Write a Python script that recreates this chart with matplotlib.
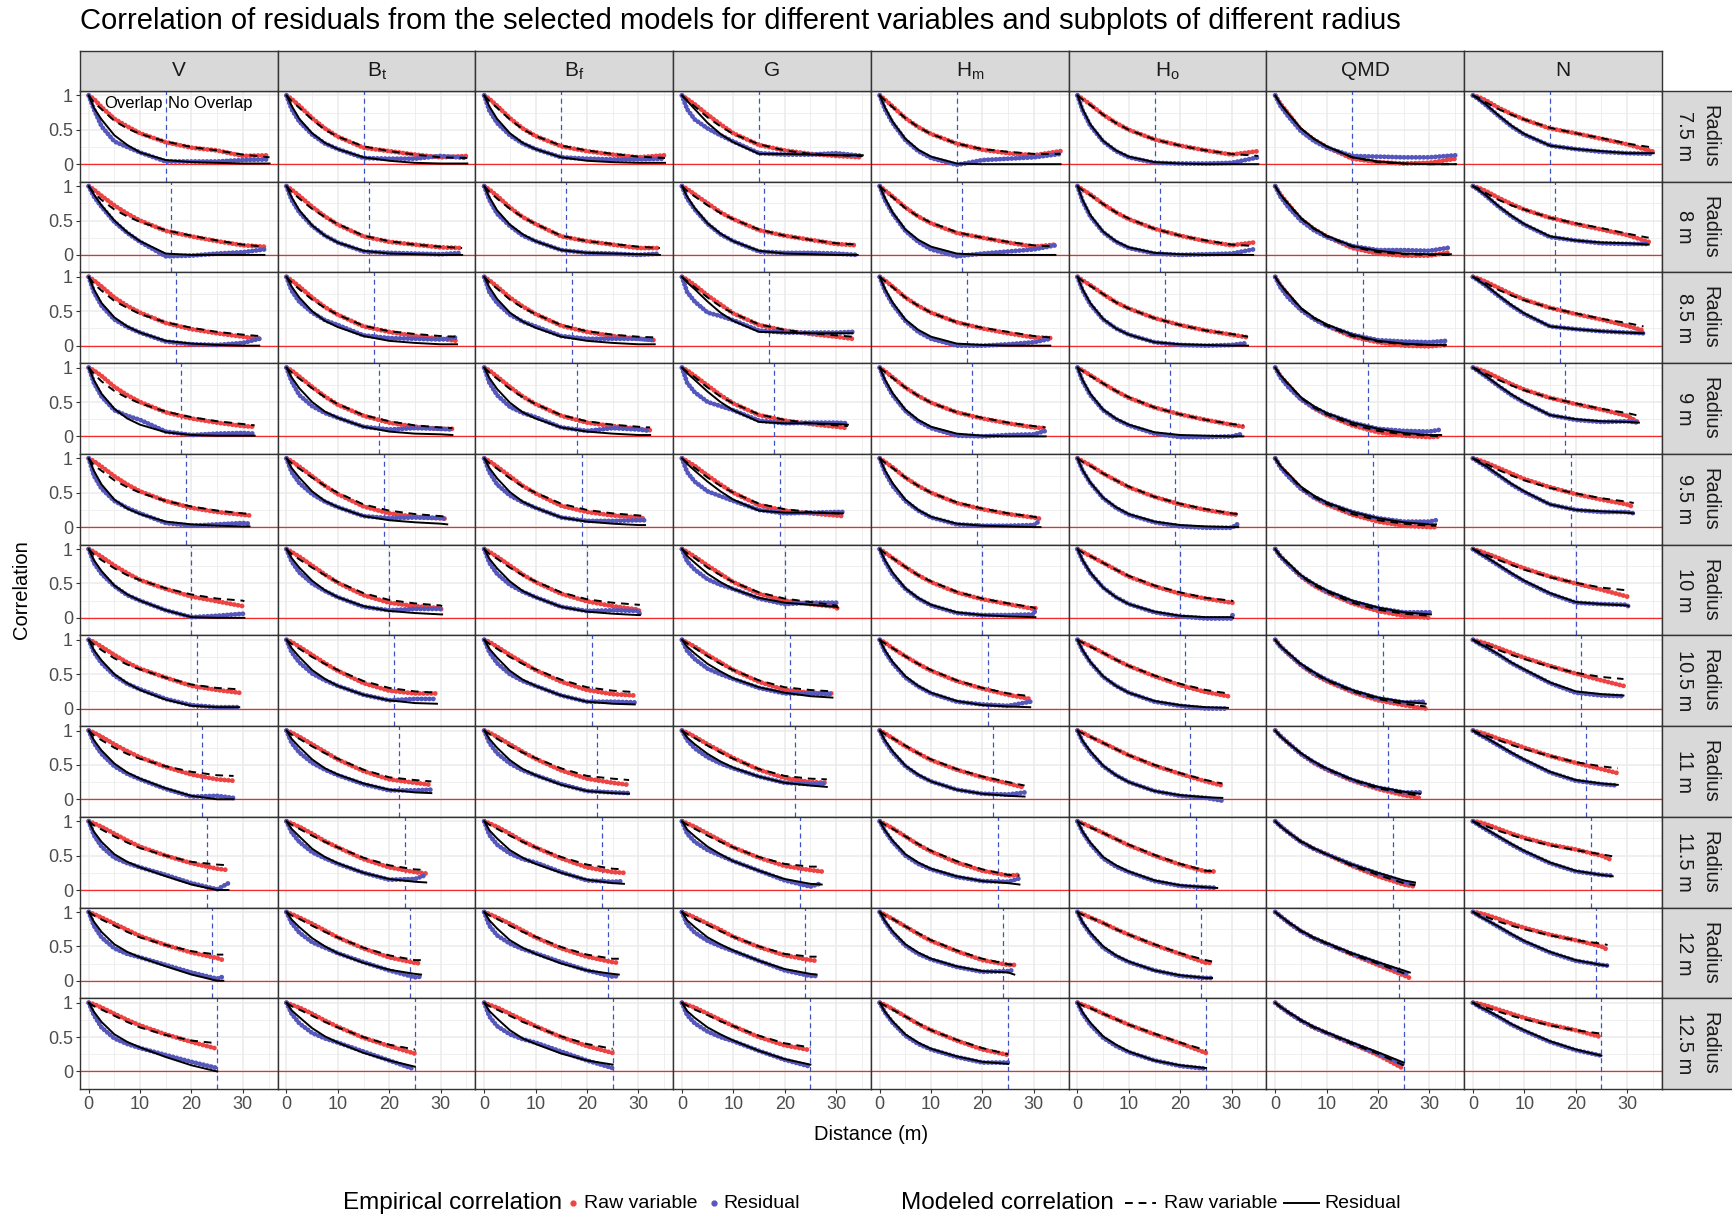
import matplotlib
matplotlib.use("Agg")
import matplotlib.pyplot as plt
from matplotlib.lines import Line2D
from matplotlib.ticker import FixedLocator

plt.rcParams['font.family'] = ['Liberation Sans', 'DejaVu Sans']
plt.rcParams['mathtext.fontset'] = 'custom'
plt.rcParams['mathtext.rm'] = 'Liberation Sans'
plt.rcParams['mathtext.it'] = 'Liberation Sans:italic'

# facets
VAR_LABELS = ['V', r'B$_\mathrm{t}$', r'B$_\mathrm{f}$', 'G', r'H$_\mathrm{m}$', r'H$_\mathrm{o}$', 'QMD', 'N']
RADII = [7.5, 8, 8.5, 9, 9.5, 10, 10.5, 11, 11.5, 12, 12.5]
# last distance class per radius, and distances where the curves were read
XMAX = [35.2, 34.2, 33.2, 32.3, 31.3, 30.3, 29.3, 28.2, 27.2, 26.2, 25.0]
DIST = [0, 1, 2.5, 5, 7.5, 10, 15, 20, 25, 30]

# ---- V ----
V_EMP_RAW = [
    [1, 0.95, 0.83, 0.66, 0.55, 0.45, 0.32, 0.24, 0.2, 0.12, 0.13],
    [1, 0.95, 0.86, 0.72, 0.6, 0.5, 0.35, 0.27, 0.2, 0.14, 0.12],
    [1, 0.95, 0.86, 0.7, 0.58, 0.48, 0.33, 0.24, 0.18, 0.13, 0.1],
    [1, 0.96, 0.88, 0.72, 0.6, 0.5, 0.35, 0.26, 0.2, 0.15, 0.14],
    [1, 0.96, 0.88, 0.74, 0.62, 0.52, 0.38, 0.28, 0.22, 0.18, 0.17],
    [1, 0.96, 0.89, 0.76, 0.65, 0.55, 0.42, 0.31, 0.24, 0.17, 0.15],
    [1, 0.97, 0.9, 0.78, 0.67, 0.58, 0.45, 0.33, 0.27, 0.23],
    [1, 0.97, 0.91, 0.8, 0.7, 0.61, 0.47, 0.36, 0.29, 0.27],
    [1, 0.97, 0.92, 0.82, 0.72, 0.63, 0.5, 0.39, 0.31, 0.29],
    [1, 0.97, 0.92, 0.83, 0.74, 0.65, 0.52, 0.41, 0.33, 0.3],
    [1, 0.98, 0.93, 0.84, 0.75, 0.67, 0.54, 0.43, 0.33],
]
V_MOD_RAW = [
    [1, 0.9, 0.8, 0.63, 0.52, 0.44, 0.33, 0.25, 0.2, 0.14, 0.1],
    [1, 0.9, 0.8, 0.66, 0.56, 0.48, 0.36, 0.28, 0.21, 0.15, 0.12],
    [1, 0.9, 0.8, 0.65, 0.55, 0.46, 0.34, 0.26, 0.2, 0.16, 0.14],
    [1, 0.91, 0.8, 0.66, 0.56, 0.48, 0.36, 0.28, 0.22, 0.18, 0.16],
    [1, 0.9, 0.82, 0.68, 0.58, 0.5, 0.38, 0.3, 0.24, 0.2, 0.19],
    [1, 0.92, 0.84, 0.72, 0.62, 0.55, 0.43, 0.34, 0.28, 0.25, 0.24],
    [1, 0.93, 0.85, 0.73, 0.64, 0.57, 0.45, 0.35, 0.3, 0.28],
    [1, 0.93, 0.86, 0.75, 0.66, 0.59, 0.48, 0.4, 0.35, 0.34],
    [1, 0.94, 0.88, 0.78, 0.69, 0.61, 0.5, 0.41, 0.37, 0.36],
    [1, 0.95, 0.89, 0.8, 0.71, 0.63, 0.52, 0.43, 0.38, 0.38],
    [1, 0.95, 0.9, 0.81, 0.72, 0.64, 0.53, 0.45, 0.41],
]
V_EMP_RES = [
    [1, 0.8, 0.55, 0.33, 0.25, 0.17, 0.04, 0.04, 0.04, 0.06, 0.07],
    [1, 0.85, 0.7, 0.48, 0.32, 0.19, -0.02, -0.01, 0.02, 0.04, 0.08],
    [1, 0.78, 0.58, 0.38, 0.27, 0.19, 0.06, 0.02, 0.01, 0.04, 0.1],
    [1, 0.78, 0.58, 0.38, 0.3, 0.24, 0.07, 0.02, 0.04, 0.05, 0.04],
    [1, 0.75, 0.56, 0.38, 0.28, 0.2, 0.06, 0.02, 0.04, 0.06, 0.05],
    [1, 0.8, 0.64, 0.46, 0.33, 0.25, 0.11, 0.01, 0.03, 0.06, 0.02],
    [1, 0.82, 0.66, 0.48, 0.36, 0.28, 0.14, 0.05, 0.02, 0.02],
    [1, 0.82, 0.66, 0.48, 0.37, 0.29, 0.15, 0.04, 0.05, 0.02],
    [1, 0.8, 0.63, 0.47, 0.39, 0.33, 0.22, 0.1, 0.01, 0.1],
    [1, 0.8, 0.63, 0.47, 0.39, 0.34, 0.23, 0.12, 0.03, 0.06],
    [1, 0.82, 0.64, 0.48, 0.4, 0.34, 0.24, 0.14, 0.05],
]
V_MOD_RES = [
    [1, 0.82, 0.65, 0.42, 0.28, 0.17, 0.06, 0.03, 0.02, 0.01, 0.01],
    [1, 0.88, 0.72, 0.5, 0.33, 0.2, 0.02, 0.0, 0.0, 0.0, 0.0],
    [1, 0.82, 0.62, 0.41, 0.28, 0.19, 0.07, 0.03, 0.01, 0.0, 0.0],
    [1, 0.82, 0.62, 0.4, 0.26, 0.17, 0.06, 0.02, 0.01, 0.01, 0.01],
    [1, 0.82, 0.62, 0.4, 0.27, 0.19, 0.08, 0.04, 0.02, 0.01, 0.01],
    [1, 0.84, 0.68, 0.47, 0.34, 0.25, 0.11, 0.01, 0.0, 0.0, 0.0],
    [1, 0.85, 0.7, 0.5, 0.37, 0.27, 0.13, 0.04, 0.02, 0.02],
    [1, 0.86, 0.71, 0.52, 0.39, 0.3, 0.16, 0.05, 0.0, 0.0],
    [1, 0.85, 0.7, 0.52, 0.41, 0.33, 0.2, 0.08, 0.0, 0.0],
    [1, 0.86, 0.71, 0.53, 0.42, 0.34, 0.21, 0.09, 0.0, 0.0],
    [1, 0.87, 0.72, 0.54, 0.43, 0.35, 0.21, 0.09, 0.0],
]

# ---- Bt ----
BT_EMP_RAW = [
    [1, 0.95, 0.85, 0.67, 0.52, 0.4, 0.24, 0.19, 0.14, 0.1, 0.12],
    [1, 0.95, 0.86, 0.7, 0.56, 0.44, 0.27, 0.19, 0.15, 0.11, 0.1],
    [1, 0.95, 0.86, 0.7, 0.56, 0.45, 0.28, 0.2, 0.14, 0.1, 0.07],
    [1, 0.96, 0.87, 0.72, 0.58, 0.46, 0.3, 0.2, 0.14, 0.11, 0.11],
    [1, 0.96, 0.88, 0.74, 0.6, 0.48, 0.3, 0.2, 0.15, 0.13, 0.12],
    [1, 0.96, 0.89, 0.76, 0.63, 0.51, 0.33, 0.22, 0.17, 0.14, 0.1],
    [1, 0.97, 0.9, 0.78, 0.66, 0.55, 0.37, 0.26, 0.22, 0.22],
    [1, 0.97, 0.91, 0.8, 0.69, 0.58, 0.41, 0.29, 0.24, 0.21],
    [1, 0.97, 0.92, 0.82, 0.71, 0.62, 0.45, 0.33, 0.26, 0.24],
    [1, 0.97, 0.92, 0.83, 0.73, 0.63, 0.47, 0.34, 0.26, 0.25],
    [1, 0.97, 0.93, 0.84, 0.74, 0.65, 0.49, 0.37, 0.26],
]
BT_MOD_RAW = [
    [1, 0.92, 0.82, 0.65, 0.5, 0.4, 0.26, 0.19, 0.14, 0.1, 0.09],
    [1, 0.92, 0.82, 0.67, 0.55, 0.45, 0.28, 0.2, 0.15, 0.12, 0.1],
    [1, 0.92, 0.82, 0.67, 0.55, 0.45, 0.29, 0.21, 0.17, 0.14, 0.13],
    [1, 0.93, 0.84, 0.7, 0.57, 0.47, 0.31, 0.22, 0.16, 0.13, 0.12],
    [1, 0.93, 0.85, 0.72, 0.6, 0.5, 0.33, 0.24, 0.19, 0.16, 0.15],
    [1, 0.93, 0.85, 0.73, 0.62, 0.52, 0.36, 0.26, 0.21, 0.18, 0.17],
    [1, 0.94, 0.87, 0.75, 0.65, 0.56, 0.4, 0.3, 0.25, 0.23],
    [1, 0.94, 0.88, 0.77, 0.67, 0.59, 0.43, 0.32, 0.28, 0.26],
    [1, 0.95, 0.89, 0.79, 0.7, 0.62, 0.47, 0.36, 0.3, 0.29],
    [1, 0.95, 0.9, 0.8, 0.71, 0.63, 0.48, 0.37, 0.3, 0.3],
    [1, 0.95, 0.9, 0.81, 0.72, 0.64, 0.5, 0.39, 0.32],
]
BT_EMP_RES = [
    [1, 0.8, 0.62, 0.43, 0.3, 0.22, 0.09, 0.08, 0.08, 0.12, 0.09],
    [1, 0.8, 0.62, 0.42, 0.28, 0.18, 0.05, 0.03, 0.02, 0.01, 0.03],
    [1, 0.8, 0.64, 0.48, 0.37, 0.3, 0.15, 0.11, 0.1, 0.09, 0.12],
    [1, 0.8, 0.6, 0.44, 0.34, 0.27, 0.14, 0.1, 0.12, 0.11, 0.1],
    [1, 0.8, 0.64, 0.48, 0.37, 0.29, 0.16, 0.13, 0.14, 0.13, 0.12],
    [1, 0.82, 0.66, 0.5, 0.39, 0.3, 0.16, 0.11, 0.13, 0.13, 0.09],
    [1, 0.82, 0.67, 0.51, 0.41, 0.33, 0.2, 0.12, 0.14, 0.14],
    [1, 0.82, 0.68, 0.53, 0.43, 0.35, 0.22, 0.13, 0.13, 0.14],
    [1, 0.84, 0.7, 0.55, 0.46, 0.38, 0.25, 0.15, 0.16, 0.22],
    [1, 0.84, 0.7, 0.56, 0.48, 0.4, 0.27, 0.15, 0.05, 0.06],
    [1, 0.84, 0.7, 0.56, 0.48, 0.42, 0.29, 0.16, 0.03],
]
BT_MOD_RES = [
    [1, 0.85, 0.66, 0.45, 0.31, 0.22, 0.1, 0.05, 0.02, 0.01, 0.01],
    [1, 0.84, 0.65, 0.43, 0.28, 0.18, 0.06, 0.02, 0.01, 0.0, 0.0],
    [1, 0.86, 0.7, 0.5, 0.36, 0.27, 0.14, 0.07, 0.04, 0.02, 0.02],
    [1, 0.86, 0.7, 0.5, 0.36, 0.27, 0.14, 0.07, 0.04, 0.03, 0.02],
    [1, 0.86, 0.72, 0.52, 0.38, 0.29, 0.16, 0.1, 0.07, 0.05, 0.04],
    [1, 0.87, 0.73, 0.54, 0.4, 0.3, 0.17, 0.1, 0.07, 0.05, 0.05],
    [1, 0.88, 0.75, 0.56, 0.43, 0.33, 0.2, 0.12, 0.08, 0.07],
    [1, 0.88, 0.76, 0.58, 0.45, 0.36, 0.23, 0.14, 0.1, 0.09],
    [1, 0.89, 0.78, 0.6, 0.48, 0.39, 0.25, 0.16, 0.12, 0.11],
    [1, 0.89, 0.78, 0.62, 0.5, 0.4, 0.26, 0.16, 0.1, 0.09],
    [1, 0.89, 0.79, 0.63, 0.51, 0.42, 0.27, 0.16, 0.07],
]

# ---- Bf ----
BF_EMP_RAW = [
    [1, 0.95, 0.85, 0.67, 0.52, 0.41, 0.26, 0.19, 0.14, 0.1, 0.13],
    [1, 0.95, 0.86, 0.69, 0.55, 0.45, 0.27, 0.2, 0.15, 0.1, 0.1],
    [1, 0.95, 0.86, 0.7, 0.57, 0.46, 0.29, 0.2, 0.14, 0.1, 0.08],
    [1, 0.96, 0.87, 0.72, 0.58, 0.47, 0.3, 0.2, 0.15, 0.11, 0.09],
    [1, 0.96, 0.88, 0.74, 0.6, 0.49, 0.31, 0.22, 0.17, 0.14, 0.12],
    [1, 0.96, 0.89, 0.76, 0.63, 0.52, 0.35, 0.24, 0.17, 0.12, 0.08],
    [1, 0.97, 0.9, 0.78, 0.67, 0.56, 0.39, 0.27, 0.21, 0.19],
    [1, 0.97, 0.91, 0.8, 0.69, 0.59, 0.42, 0.3, 0.24, 0.21],
    [1, 0.97, 0.92, 0.82, 0.71, 0.62, 0.46, 0.33, 0.26, 0.25],
    [1, 0.97, 0.92, 0.83, 0.73, 0.63, 0.47, 0.35, 0.27, 0.26],
    [1, 0.97, 0.93, 0.84, 0.75, 0.66, 0.5, 0.37, 0.27],
]
BF_MOD_RAW = [
    [1, 0.92, 0.82, 0.65, 0.51, 0.41, 0.27, 0.2, 0.15, 0.11, 0.09],
    [1, 0.92, 0.82, 0.67, 0.55, 0.45, 0.28, 0.2, 0.16, 0.12, 0.1],
    [1, 0.92, 0.83, 0.67, 0.55, 0.46, 0.3, 0.21, 0.16, 0.13, 0.12],
    [1, 0.93, 0.84, 0.69, 0.57, 0.47, 0.31, 0.22, 0.17, 0.14, 0.13],
    [1, 0.93, 0.85, 0.71, 0.59, 0.5, 0.34, 0.25, 0.2, 0.17, 0.16],
    [1, 0.93, 0.86, 0.73, 0.62, 0.53, 0.37, 0.27, 0.22, 0.19, 0.19],
    [1, 0.94, 0.87, 0.75, 0.65, 0.57, 0.42, 0.31, 0.26, 0.24],
    [1, 0.95, 0.88, 0.77, 0.68, 0.6, 0.45, 0.34, 0.3, 0.28],
    [1, 0.95, 0.89, 0.79, 0.7, 0.62, 0.48, 0.37, 0.31, 0.3],
    [1, 0.95, 0.9, 0.8, 0.71, 0.64, 0.49, 0.38, 0.32, 0.32],
    [1, 0.95, 0.9, 0.81, 0.72, 0.65, 0.51, 0.4, 0.33],
]
BF_EMP_RES = [
    [1, 0.78, 0.6, 0.42, 0.3, 0.22, 0.1, 0.08, 0.07, 0.07, 0.08],
    [1, 0.8, 0.6, 0.42, 0.28, 0.2, 0.07, 0.03, 0.02, 0.0, 0.02],
    [1, 0.78, 0.62, 0.45, 0.35, 0.28, 0.14, 0.1, 0.1, 0.1, 0.08],
    [1, 0.78, 0.6, 0.43, 0.34, 0.28, 0.13, 0.08, 0.12, 0.1, 0.08],
    [1, 0.8, 0.62, 0.46, 0.36, 0.28, 0.14, 0.09, 0.09, 0.1, 0.1],
    [1, 0.8, 0.64, 0.48, 0.38, 0.3, 0.16, 0.1, 0.11, 0.1, 0.05],
    [1, 0.82, 0.66, 0.5, 0.4, 0.33, 0.19, 0.1, 0.1, 0.09],
    [1, 0.82, 0.67, 0.52, 0.42, 0.35, 0.22, 0.12, 0.1, 0.09],
    [1, 0.8, 0.66, 0.53, 0.45, 0.4, 0.26, 0.14, 0.12, 0.13],
    [1, 0.8, 0.66, 0.54, 0.46, 0.4, 0.27, 0.15, 0.06, 0.07],
    [1, 0.8, 0.66, 0.54, 0.47, 0.42, 0.29, 0.16, 0.05],
]
BF_MOD_RES = [
    [1, 0.84, 0.66, 0.45, 0.31, 0.22, 0.1, 0.05, 0.03, 0.02, 0.02],
    [1, 0.84, 0.65, 0.44, 0.3, 0.2, 0.07, 0.03, 0.02, 0.01, 0.0],
    [1, 0.85, 0.68, 0.48, 0.35, 0.26, 0.13, 0.07, 0.04, 0.02, 0.02],
    [1, 0.85, 0.69, 0.49, 0.35, 0.26, 0.13, 0.07, 0.04, 0.02, 0.02],
    [1, 0.86, 0.71, 0.51, 0.37, 0.28, 0.14, 0.08, 0.05, 0.03, 0.03],
    [1, 0.86, 0.72, 0.53, 0.39, 0.3, 0.16, 0.09, 0.06, 0.04, 0.04],
    [1, 0.87, 0.74, 0.55, 0.42, 0.33, 0.19, 0.1, 0.07, 0.06],
    [1, 0.88, 0.75, 0.57, 0.44, 0.35, 0.21, 0.12, 0.09, 0.08],
    [1, 0.87, 0.75, 0.58, 0.47, 0.38, 0.25, 0.15, 0.1, 0.09],
    [1, 0.88, 0.76, 0.59, 0.48, 0.39, 0.25, 0.15, 0.1, 0.09],
    [1, 0.88, 0.77, 0.6, 0.48, 0.4, 0.26, 0.16, 0.1],
]

# ---- G ----
G_EMP_RAW = [
    [1, 0.95, 0.87, 0.72, 0.58, 0.45, 0.28, 0.2, 0.15, 0.12, 0.1],
    [1, 0.96, 0.88, 0.75, 0.62, 0.52, 0.36, 0.28, 0.22, 0.16, 0.14],
    [1, 0.96, 0.88, 0.73, 0.6, 0.47, 0.3, 0.22, 0.17, 0.13, 0.1],
    [1, 0.96, 0.88, 0.74, 0.6, 0.48, 0.31, 0.23, 0.18, 0.14, 0.12],
    [1, 0.96, 0.89, 0.75, 0.62, 0.5, 0.32, 0.24, 0.2, 0.17, 0.16],
    [1, 0.96, 0.89, 0.76, 0.64, 0.52, 0.35, 0.25, 0.2, 0.16, 0.13],
    [1, 0.96, 0.9, 0.78, 0.67, 0.56, 0.39, 0.27, 0.23, 0.22],
    [1, 0.97, 0.91, 0.8, 0.7, 0.6, 0.43, 0.31, 0.25, 0.24],
    [1, 0.97, 0.92, 0.82, 0.72, 0.62, 0.47, 0.35, 0.29, 0.27],
    [1, 0.97, 0.92, 0.83, 0.74, 0.64, 0.49, 0.37, 0.3, 0.29],
    [1, 0.97, 0.93, 0.84, 0.75, 0.66, 0.5, 0.38, 0.31],
]
G_MOD_RAW = [
    [1, 0.93, 0.84, 0.68, 0.55, 0.44, 0.29, 0.2, 0.15, 0.13, 0.12],
    [1, 0.93, 0.85, 0.72, 0.61, 0.52, 0.37, 0.28, 0.22, 0.17, 0.15],
    [1, 0.94, 0.85, 0.7, 0.57, 0.47, 0.31, 0.23, 0.18, 0.15, 0.13],
    [1, 0.94, 0.86, 0.71, 0.58, 0.48, 0.32, 0.24, 0.19, 0.16, 0.15],
    [1, 0.94, 0.86, 0.72, 0.6, 0.5, 0.34, 0.26, 0.22, 0.2, 0.2],
    [1, 0.94, 0.87, 0.73, 0.62, 0.52, 0.37, 0.28, 0.23, 0.18, 0.17],
    [1, 0.95, 0.88, 0.76, 0.65, 0.56, 0.41, 0.31, 0.27, 0.25],
    [1, 0.95, 0.89, 0.78, 0.68, 0.59, 0.44, 0.34, 0.3, 0.29],
    [1, 0.95, 0.89, 0.79, 0.7, 0.62, 0.48, 0.38, 0.34, 0.34],
    [1, 0.95, 0.9, 0.81, 0.72, 0.64, 0.5, 0.39, 0.35, 0.35],
    [1, 0.96, 0.9, 0.82, 0.73, 0.66, 0.52, 0.41, 0.35],
]
G_EMP_RES = [
    [1, 0.8, 0.65, 0.52, 0.42, 0.33, 0.16, 0.14, 0.14, 0.16, 0.12],
    [1, 0.82, 0.66, 0.45, 0.3, 0.2, 0.05, 0.03, 0.03, 0.02, 0.0],
    [1, 0.78, 0.64, 0.48, 0.43, 0.37, 0.22, 0.19, 0.19, 0.19, 0.2],
    [1, 0.78, 0.64, 0.5, 0.44, 0.38, 0.23, 0.19, 0.2, 0.2, 0.19],
    [1, 0.8, 0.66, 0.52, 0.45, 0.38, 0.25, 0.2, 0.21, 0.22, 0.22],
    [1, 0.82, 0.7, 0.56, 0.48, 0.42, 0.28, 0.2, 0.22, 0.22, 0.2],
    [1, 0.84, 0.72, 0.58, 0.5, 0.43, 0.3, 0.22, 0.22, 0.21],
    [1, 0.86, 0.74, 0.61, 0.52, 0.45, 0.33, 0.24, 0.22, 0.23],
    [1, 0.82, 0.7, 0.58, 0.5, 0.42, 0.28, 0.14, 0.05, 0.1],
    [1, 0.82, 0.7, 0.58, 0.5, 0.43, 0.29, 0.15, 0.07, 0.07],
    [1, 0.82, 0.7, 0.58, 0.5, 0.44, 0.3, 0.17, 0.07],
]
G_MOD_RES = [
    [1, 0.92, 0.8, 0.6, 0.44, 0.32, 0.15, 0.15, 0.14, 0.13, 0.13],
    [1, 0.85, 0.68, 0.46, 0.31, 0.2, 0.06, 0.02, 0.01, 0.0, 0.0],
    [1, 0.92, 0.82, 0.64, 0.48, 0.36, 0.2, 0.19, 0.18, 0.18, 0.18],
    [1, 0.92, 0.82, 0.65, 0.5, 0.38, 0.21, 0.19, 0.19, 0.18, 0.17],
    [1, 0.92, 0.82, 0.66, 0.52, 0.4, 0.24, 0.21, 0.21, 0.2, 0.2],
    [1, 0.9, 0.8, 0.64, 0.52, 0.42, 0.29, 0.22, 0.19, 0.16, 0.15],
    [1, 0.9, 0.8, 0.65, 0.54, 0.44, 0.31, 0.23, 0.18, 0.16],
    [1, 0.9, 0.8, 0.66, 0.55, 0.46, 0.33, 0.24, 0.2, 0.18],
    [1, 0.88, 0.78, 0.63, 0.52, 0.42, 0.28, 0.16, 0.09, 0.08],
    [1, 0.88, 0.78, 0.63, 0.53, 0.44, 0.29, 0.17, 0.1, 0.09],
    [1, 0.88, 0.78, 0.64, 0.54, 0.45, 0.3, 0.18, 0.1],
]

# ---- Hm ----
HM_EMP_RAW = [
    [1, 0.94, 0.84, 0.67, 0.54, 0.44, 0.3, 0.21, 0.16, 0.13, 0.19],
    [1, 0.94, 0.85, 0.69, 0.56, 0.46, 0.32, 0.25, 0.18, 0.12, 0.15],
    [1, 0.95, 0.86, 0.7, 0.58, 0.48, 0.34, 0.25, 0.18, 0.12, 0.11],
    [1, 0.95, 0.86, 0.71, 0.59, 0.49, 0.35, 0.26, 0.19, 0.13, 0.12],
    [1, 0.95, 0.87, 0.72, 0.6, 0.5, 0.35, 0.26, 0.19, 0.14, 0.12],
    [1, 0.95, 0.87, 0.74, 0.62, 0.52, 0.37, 0.27, 0.2, 0.13, 0.14],
    [1, 0.96, 0.88, 0.76, 0.65, 0.55, 0.4, 0.29, 0.2, 0.14],
    [1, 0.96, 0.89, 0.77, 0.67, 0.57, 0.43, 0.32, 0.23, 0.17],
    [1, 0.96, 0.9, 0.78, 0.66, 0.56, 0.4, 0.28, 0.21, 0.22],
    [1, 0.96, 0.9, 0.79, 0.68, 0.58, 0.43, 0.3, 0.23, 0.23],
    [1, 0.97, 0.91, 0.8, 0.69, 0.6, 0.45, 0.32, 0.24],
]
HM_MOD_RAW = [
    [1, 0.93, 0.83, 0.67, 0.54, 0.44, 0.3, 0.22, 0.18, 0.15, 0.15],
    [1, 0.93, 0.84, 0.68, 0.56, 0.47, 0.33, 0.25, 0.19, 0.14, 0.12],
    [1, 0.94, 0.85, 0.7, 0.58, 0.48, 0.34, 0.26, 0.2, 0.14, 0.12],
    [1, 0.94, 0.85, 0.71, 0.59, 0.49, 0.35, 0.27, 0.2, 0.15, 0.13],
    [1, 0.94, 0.86, 0.72, 0.6, 0.5, 0.36, 0.27, 0.2, 0.15, 0.13],
    [1, 0.94, 0.87, 0.74, 0.62, 0.53, 0.38, 0.28, 0.21, 0.15, 0.13],
    [1, 0.95, 0.88, 0.76, 0.65, 0.56, 0.41, 0.3, 0.22, 0.18],
    [1, 0.95, 0.89, 0.78, 0.67, 0.58, 0.44, 0.33, 0.25, 0.2],
    [1, 0.95, 0.89, 0.78, 0.67, 0.57, 0.42, 0.3, 0.22, 0.21],
    [1, 0.95, 0.9, 0.79, 0.69, 0.59, 0.44, 0.32, 0.24, 0.23],
    [1, 0.96, 0.9, 0.8, 0.7, 0.6, 0.46, 0.34, 0.25],
]
HM_EMP_RES = [
    [1, 0.8, 0.6, 0.35, 0.19, 0.09, -0.01, 0.06, 0.08, 0.1, 0.15],
    [1, 0.8, 0.6, 0.35, 0.19, 0.08, -0.02, 0.02, 0.05, 0.08, 0.14],
    [1, 0.8, 0.6, 0.36, 0.2, 0.1, 0.0, 0.0, 0.02, 0.05, 0.1],
    [1, 0.8, 0.6, 0.37, 0.22, 0.12, 0.01, 0.0, 0.02, 0.03, 0.08],
    [1, 0.8, 0.6, 0.38, 0.24, 0.14, 0.04, 0.02, 0.02, 0.03, 0.1],
    [1, 0.82, 0.63, 0.42, 0.28, 0.18, 0.07, 0.04, 0.04, 0.05, 0.12],
    [1, 0.83, 0.66, 0.45, 0.32, 0.22, 0.1, 0.06, 0.04, 0.1],
    [1, 0.84, 0.68, 0.48, 0.35, 0.26, 0.14, 0.08, 0.07, 0.1],
    [1, 0.86, 0.7, 0.5, 0.38, 0.3, 0.19, 0.13, 0.12, 0.17],
    [1, 0.86, 0.7, 0.51, 0.39, 0.31, 0.2, 0.13, 0.14, 0.16],
    [1, 0.86, 0.71, 0.52, 0.4, 0.32, 0.21, 0.13, 0.13],
]
HM_MOD_RES = [
    [1, 0.83, 0.62, 0.37, 0.21, 0.11, 0.01, 0.0, 0.0, 0.0, 0.0],
    [1, 0.83, 0.62, 0.37, 0.22, 0.12, 0.02, 0.0, 0.0, 0.0, 0.0],
    [1, 0.83, 0.63, 0.38, 0.23, 0.13, 0.03, 0.01, 0.0, 0.0, 0.0],
    [1, 0.83, 0.63, 0.39, 0.24, 0.14, 0.04, 0.01, 0.0, 0.0, 0.0],
    [1, 0.83, 0.64, 0.4, 0.25, 0.15, 0.05, 0.02, 0.01, 0.0, 0.0],
    [1, 0.84, 0.66, 0.43, 0.29, 0.19, 0.08, 0.04, 0.02, 0.01, 0.01],
    [1, 0.85, 0.68, 0.47, 0.33, 0.23, 0.11, 0.05, 0.03, 0.02],
    [1, 0.86, 0.7, 0.49, 0.36, 0.26, 0.14, 0.08, 0.05, 0.04],
    [1, 0.87, 0.72, 0.52, 0.4, 0.31, 0.2, 0.13, 0.1, 0.08],
    [1, 0.87, 0.72, 0.53, 0.41, 0.32, 0.21, 0.14, 0.12, 0.09],
    [1, 0.87, 0.73, 0.54, 0.42, 0.33, 0.22, 0.14, 0.11],
]

# ---- Ho ----
HO_EMP_RAW = [
    [1, 0.95, 0.87, 0.72, 0.6, 0.5, 0.36, 0.27, 0.2, 0.14, 0.19],
    [1, 0.95, 0.88, 0.74, 0.62, 0.52, 0.38, 0.28, 0.2, 0.14, 0.18],
    [1, 0.95, 0.88, 0.75, 0.63, 0.54, 0.4, 0.3, 0.22, 0.16, 0.12],
    [1, 0.96, 0.89, 0.77, 0.66, 0.56, 0.42, 0.32, 0.24, 0.17, 0.14],
    [1, 0.96, 0.9, 0.78, 0.68, 0.58, 0.44, 0.33, 0.25, 0.19, 0.18],
    [1, 0.96, 0.9, 0.8, 0.7, 0.6, 0.46, 0.35, 0.28, 0.22, 0.22],
    [1, 0.96, 0.91, 0.81, 0.71, 0.62, 0.47, 0.34, 0.24, 0.18],
    [1, 0.97, 0.91, 0.82, 0.73, 0.64, 0.49, 0.37, 0.26, 0.2],
    [1, 0.97, 0.92, 0.83, 0.74, 0.65, 0.5, 0.37, 0.27, 0.27],
    [1, 0.97, 0.92, 0.84, 0.75, 0.67, 0.52, 0.39, 0.26, 0.26],
    [1, 0.97, 0.93, 0.84, 0.76, 0.68, 0.54, 0.41, 0.27],
]
HO_MOD_RAW = [
    [1, 0.94, 0.86, 0.72, 0.6, 0.5, 0.36, 0.27, 0.2, 0.15, 0.12],
    [1, 0.94, 0.87, 0.74, 0.62, 0.53, 0.38, 0.28, 0.21, 0.15, 0.13],
    [1, 0.94, 0.87, 0.75, 0.63, 0.54, 0.4, 0.3, 0.22, 0.17, 0.13],
    [1, 0.95, 0.88, 0.77, 0.66, 0.57, 0.42, 0.32, 0.24, 0.18, 0.16],
    [1, 0.95, 0.89, 0.78, 0.68, 0.59, 0.44, 0.34, 0.26, 0.2, 0.19],
    [1, 0.95, 0.9, 0.8, 0.7, 0.61, 0.47, 0.37, 0.29, 0.25, 0.24],
    [1, 0.96, 0.9, 0.81, 0.71, 0.62, 0.48, 0.36, 0.27, 0.22],
    [1, 0.96, 0.91, 0.82, 0.73, 0.64, 0.5, 0.38, 0.28, 0.23],
    [1, 0.96, 0.91, 0.83, 0.74, 0.66, 0.51, 0.38, 0.28, 0.27],
    [1, 0.96, 0.92, 0.84, 0.75, 0.67, 0.53, 0.4, 0.3, 0.28],
    [1, 0.96, 0.92, 0.84, 0.76, 0.68, 0.55, 0.42, 0.31],
]
HO_EMP_RES = [
    [1, 0.78, 0.56, 0.33, 0.19, 0.1, 0.02, 0.01, 0.01, 0.02, 0.1],
    [1, 0.78, 0.56, 0.33, 0.19, 0.1, 0.02, 0.0, 0.01, 0.02, 0.08],
    [1, 0.8, 0.6, 0.38, 0.25, 0.16, 0.05, 0.01, 0.0, 0.01, 0.04],
    [1, 0.8, 0.6, 0.38, 0.25, 0.16, 0.04, -0.01, -0.01, 0.0, 0.04],
    [1, 0.82, 0.64, 0.42, 0.28, 0.18, 0.07, 0.01, -0.01, -0.01, 0.05],
    [1, 0.83, 0.65, 0.44, 0.3, 0.2, 0.08, 0.02, -0.01, -0.01, 0.07],
    [1, 0.84, 0.67, 0.46, 0.33, 0.23, 0.1, 0.04, 0.0, 0.0],
    [1, 0.84, 0.68, 0.48, 0.35, 0.25, 0.12, 0.05, 0.02, -0.02],
    [1, 0.84, 0.67, 0.46, 0.34, 0.26, 0.13, 0.06, 0.04, 0.03],
    [1, 0.84, 0.68, 0.48, 0.36, 0.27, 0.15, 0.07, 0.04, 0.04],
    [1, 0.84, 0.68, 0.49, 0.37, 0.28, 0.16, 0.08, 0.04],
]
HO_MOD_RES = [
    [1, 0.8, 0.58, 0.34, 0.2, 0.11, 0.03, 0.01, 0.0, 0.0, 0.0],
    [1, 0.8, 0.58, 0.34, 0.2, 0.11, 0.03, 0.01, 0.0, 0.0, 0.0],
    [1, 0.82, 0.62, 0.39, 0.25, 0.16, 0.05, 0.02, 0.01, 0.0, 0.0],
    [1, 0.82, 0.62, 0.39, 0.26, 0.17, 0.06, 0.02, 0.01, 0.0, 0.0],
    [1, 0.83, 0.65, 0.43, 0.29, 0.19, 0.08, 0.03, 0.01, 0.0, 0.0],
    [1, 0.84, 0.66, 0.44, 0.3, 0.2, 0.09, 0.03, 0.01, 0.01, 0.0],
    [1, 0.85, 0.68, 0.47, 0.33, 0.23, 0.11, 0.05, 0.02, 0.01],
    [1, 0.85, 0.7, 0.49, 0.35, 0.25, 0.12, 0.06, 0.03, 0.02],
    [1, 0.85, 0.69, 0.48, 0.36, 0.27, 0.14, 0.07, 0.04, 0.03],
    [1, 0.85, 0.7, 0.5, 0.37, 0.28, 0.15, 0.08, 0.04, 0.04],
    [1, 0.86, 0.71, 0.51, 0.39, 0.29, 0.16, 0.09, 0.05],
]

# ---- QMD ----
QMD_EMP_RAW = [
    [1, 0.88, 0.74, 0.5, 0.36, 0.25, 0.08, 0.03, 0.01, 0.02, 0.08],
    [1, 0.88, 0.74, 0.52, 0.38, 0.27, 0.1, 0.02, -0.01, -0.01, 0.04],
    [1, 0.88, 0.74, 0.52, 0.39, 0.29, 0.13, 0.05, 0.0, -0.01, 0.01],
    [1, 0.88, 0.75, 0.54, 0.41, 0.31, 0.16, 0.06, 0.01, -0.01, 0.0],
    [1, 0.88, 0.76, 0.56, 0.43, 0.33, 0.18, 0.08, 0.02, 0.0, 0.0],
    [1, 0.9, 0.78, 0.6, 0.47, 0.37, 0.21, 0.1, 0.03, 0.0, -0.01],
    [1, 0.91, 0.8, 0.63, 0.5, 0.4, 0.24, 0.12, 0.05, 0.0],
    [1, 0.92, 0.82, 0.66, 0.53, 0.43, 0.27, 0.15, 0.06, 0.02],
    [1, 0.93, 0.84, 0.7, 0.6, 0.52, 0.35, 0.2, 0.08, 0.05],
    [1, 0.94, 0.85, 0.72, 0.62, 0.54, 0.38, 0.23, 0.08, 0.04],
    [1, 0.94, 0.86, 0.74, 0.64, 0.56, 0.4, 0.24, 0.04],
]
QMD_MOD_RAW = [
    [1, 0.88, 0.74, 0.52, 0.37, 0.26, 0.1, 0.03, 0.01, 0.0, 0.0],
    [1, 0.88, 0.74, 0.53, 0.38, 0.27, 0.12, 0.04, 0.01, 0.0, 0.0],
    [1, 0.88, 0.75, 0.54, 0.4, 0.29, 0.14, 0.06, 0.02, 0.01, 0.0],
    [1, 0.89, 0.76, 0.56, 0.42, 0.32, 0.17, 0.08, 0.03, 0.01, 0.0],
    [1, 0.89, 0.77, 0.57, 0.44, 0.34, 0.19, 0.1, 0.05, 0.02, 0.02],
    [1, 0.9, 0.79, 0.61, 0.48, 0.38, 0.22, 0.12, 0.06, 0.03, 0.03],
    [1, 0.91, 0.81, 0.64, 0.51, 0.41, 0.25, 0.14, 0.07, 0.03],
    [1, 0.92, 0.82, 0.67, 0.54, 0.44, 0.28, 0.16, 0.09, 0.05],
    [1, 0.93, 0.84, 0.7, 0.6, 0.52, 0.35, 0.22, 0.1, 0.07],
    [1, 0.94, 0.85, 0.72, 0.62, 0.54, 0.38, 0.25, 0.11, 0.08],
    [1, 0.94, 0.86, 0.74, 0.64, 0.56, 0.4, 0.26, 0.09],
]
QMD_EMP_RES = [
    [1, 0.85, 0.7, 0.48, 0.34, 0.24, 0.12, 0.11, 0.1, 0.1, 0.13],
    [1, 0.85, 0.7, 0.5, 0.36, 0.26, 0.13, 0.07, 0.07, 0.06, 0.11],
    [1, 0.85, 0.7, 0.52, 0.39, 0.29, 0.16, 0.08, 0.06, 0.05, 0.07],
    [1, 0.86, 0.72, 0.54, 0.42, 0.33, 0.2, 0.11, 0.08, 0.07, 0.1],
    [1, 0.87, 0.74, 0.56, 0.44, 0.35, 0.22, 0.13, 0.08, 0.08, 0.1],
    [1, 0.89, 0.78, 0.61, 0.49, 0.39, 0.24, 0.14, 0.08, 0.08, 0.08],
    [1, 0.9, 0.8, 0.64, 0.52, 0.42, 0.26, 0.15, 0.09, 0.1],
    [1, 0.92, 0.82, 0.66, 0.54, 0.44, 0.28, 0.17, 0.1, 0.1],
    [1, 0.93, 0.84, 0.7, 0.6, 0.52, 0.37, 0.24, 0.12, 0.08],
    [1, 0.94, 0.85, 0.72, 0.62, 0.54, 0.39, 0.26, 0.12, 0.09],
    [1, 0.94, 0.86, 0.74, 0.64, 0.56, 0.41, 0.26, 0.1],
]
QMD_MOD_RES = [
    [1, 0.88, 0.74, 0.52, 0.37, 0.26, 0.1, 0.04, 0.01, 0.0, 0.0],
    [1, 0.88, 0.75, 0.54, 0.39, 0.28, 0.13, 0.06, 0.02, 0.01, 0.01],
    [1, 0.89, 0.76, 0.55, 0.41, 0.31, 0.16, 0.07, 0.03, 0.01, 0.01],
    [1, 0.89, 0.77, 0.57, 0.44, 0.34, 0.2, 0.11, 0.05, 0.02, 0.02],
    [1, 0.89, 0.78, 0.59, 0.46, 0.36, 0.22, 0.13, 0.07, 0.04, 0.04],
    [1, 0.9, 0.8, 0.62, 0.5, 0.4, 0.25, 0.15, 0.08, 0.05, 0.05],
    [1, 0.91, 0.81, 0.65, 0.53, 0.42, 0.27, 0.16, 0.1, 0.07],
    [1, 0.92, 0.82, 0.67, 0.55, 0.45, 0.29, 0.18, 0.11, 0.08],
    [1, 0.93, 0.84, 0.71, 0.61, 0.52, 0.37, 0.25, 0.14, 0.11],
    [1, 0.94, 0.86, 0.73, 0.63, 0.55, 0.4, 0.27, 0.15, 0.12],
    [1, 0.94, 0.87, 0.75, 0.65, 0.57, 0.42, 0.28, 0.13],
]

# ---- N ----
N_EMP_RAW = [
    [1, 0.98, 0.93, 0.82, 0.73, 0.65, 0.52, 0.45, 0.37, 0.29, 0.18],
    [1, 0.98, 0.93, 0.83, 0.74, 0.66, 0.54, 0.45, 0.37, 0.29, 0.19],
    [1, 0.98, 0.93, 0.84, 0.75, 0.67, 0.55, 0.46, 0.38, 0.29, 0.22],
    [1, 0.98, 0.94, 0.85, 0.76, 0.68, 0.56, 0.47, 0.39, 0.3, 0.2],
    [1, 0.98, 0.94, 0.86, 0.78, 0.7, 0.58, 0.48, 0.4, 0.33, 0.29],
    [1, 0.98, 0.94, 0.87, 0.79, 0.72, 0.6, 0.5, 0.41, 0.31, 0.28],
    [1, 0.98, 0.95, 0.88, 0.81, 0.74, 0.62, 0.51, 0.41, 0.33],
    [1, 0.98, 0.95, 0.88, 0.82, 0.75, 0.63, 0.53, 0.44, 0.38],
    [1, 0.99, 0.96, 0.89, 0.82, 0.76, 0.66, 0.59, 0.5, 0.43],
    [1, 0.99, 0.96, 0.9, 0.83, 0.77, 0.67, 0.59, 0.5, 0.45],
    [1, 0.99, 0.96, 0.9, 0.84, 0.78, 0.68, 0.6, 0.5],
]
N_MOD_RAW = [
    [1, 0.97, 0.9, 0.8, 0.72, 0.65, 0.53, 0.45, 0.38, 0.3, 0.24],
    [1, 0.97, 0.9, 0.8, 0.72, 0.66, 0.54, 0.46, 0.39, 0.31, 0.25],
    [1, 0.97, 0.91, 0.81, 0.73, 0.66, 0.55, 0.47, 0.39, 0.33, 0.28],
    [1, 0.97, 0.91, 0.82, 0.74, 0.67, 0.56, 0.48, 0.4, 0.34, 0.3],
    [1, 0.97, 0.92, 0.83, 0.75, 0.68, 0.57, 0.49, 0.42, 0.37, 0.35],
    [1, 0.97, 0.92, 0.84, 0.77, 0.7, 0.59, 0.51, 0.44, 0.4, 0.39],
    [1, 0.97, 0.93, 0.85, 0.78, 0.72, 0.61, 0.52, 0.46, 0.43],
    [1, 0.97, 0.93, 0.86, 0.79, 0.73, 0.63, 0.54, 0.48, 0.45],
    [1, 0.97, 0.93, 0.86, 0.8, 0.74, 0.65, 0.58, 0.52, 0.49],
    [1, 0.97, 0.93, 0.86, 0.8, 0.75, 0.66, 0.59, 0.54, 0.52],
    [1, 0.97, 0.93, 0.87, 0.81, 0.76, 0.67, 0.6, 0.55],
]
N_EMP_RES = [
    [1, 0.95, 0.86, 0.7, 0.55, 0.43, 0.27, 0.22, 0.18, 0.16, 0.15],
    [1, 0.95, 0.86, 0.7, 0.56, 0.44, 0.26, 0.21, 0.17, 0.16, 0.16],
    [1, 0.95, 0.87, 0.72, 0.58, 0.46, 0.28, 0.24, 0.21, 0.19, 0.18],
    [1, 0.95, 0.87, 0.73, 0.6, 0.49, 0.31, 0.24, 0.21, 0.22, 0.2],
    [1, 0.95, 0.88, 0.75, 0.62, 0.51, 0.33, 0.25, 0.22, 0.22, 0.2],
    [1, 0.95, 0.88, 0.76, 0.64, 0.53, 0.35, 0.22, 0.2, 0.19, 0.16],
    [1, 0.95, 0.89, 0.78, 0.66, 0.56, 0.37, 0.23, 0.19, 0.18],
    [1, 0.95, 0.89, 0.78, 0.67, 0.57, 0.39, 0.27, 0.22, 0.2],
    [1, 0.95, 0.88, 0.77, 0.66, 0.56, 0.39, 0.27, 0.22, 0.21],
    [1, 0.95, 0.89, 0.78, 0.67, 0.57, 0.41, 0.29, 0.23, 0.22],
    [1, 0.95, 0.89, 0.79, 0.68, 0.59, 0.43, 0.31, 0.23],
]
N_MOD_RES = [
    [1, 0.95, 0.87, 0.71, 0.56, 0.44, 0.27, 0.22, 0.19, 0.16, 0.16],
    [1, 0.95, 0.87, 0.71, 0.57, 0.45, 0.27, 0.21, 0.18, 0.17, 0.15],
    [1, 0.95, 0.88, 0.73, 0.59, 0.47, 0.28, 0.24, 0.21, 0.19, 0.18],
    [1, 0.95, 0.88, 0.74, 0.61, 0.5, 0.31, 0.25, 0.22, 0.21, 0.2],
    [1, 0.95, 0.89, 0.76, 0.63, 0.52, 0.33, 0.25, 0.23, 0.21, 0.2],
    [1, 0.95, 0.89, 0.77, 0.65, 0.54, 0.36, 0.23, 0.2, 0.18, 0.17],
    [1, 0.95, 0.9, 0.79, 0.67, 0.57, 0.38, 0.25, 0.21, 0.19],
    [1, 0.95, 0.9, 0.79, 0.68, 0.58, 0.4, 0.28, 0.23, 0.21],
    [1, 0.95, 0.89, 0.78, 0.67, 0.57, 0.4, 0.28, 0.22, 0.2],
    [1, 0.95, 0.89, 0.79, 0.68, 0.58, 0.42, 0.3, 0.23, 0.22],
    [1, 0.95, 0.9, 0.8, 0.69, 0.6, 0.44, 0.32, 0.23],
]

EMP_RAW = [V_EMP_RAW, BT_EMP_RAW, BF_EMP_RAW, G_EMP_RAW, HM_EMP_RAW, HO_EMP_RAW, QMD_EMP_RAW, N_EMP_RAW]
EMP_RES = [V_EMP_RES, BT_EMP_RES, BF_EMP_RES, G_EMP_RES, HM_EMP_RES, HO_EMP_RES, QMD_EMP_RES, N_EMP_RES]
MOD_RAW = [V_MOD_RAW, BT_MOD_RAW, BF_MOD_RAW, G_MOD_RAW, HM_MOD_RAW, HO_MOD_RAW, QMD_MOD_RAW, N_MOD_RAW]
MOD_RES = [V_MOD_RES, BT_MOD_RES, BF_MOD_RES, G_MOD_RES, HM_MOD_RES, HO_MOD_RES, QMD_MOD_RES, N_MOD_RES]

RED = '#EE4343'
BLUE = '#5557BD'
VBLUE = '#3D52C4'
HRED = '#F22A2A'
GRID = '#EBEBEB'
DARK = '#333333'
STRIP = '#D9D9D9'

W, H = 1733, 1219
fig = plt.figure(figsize=(W / 100, H / 100), dpi=100)
left, right = 80 / W, 1662 / W
top, bottom = 1 - 91 / H, 1 - 1089 / H
gs = fig.add_gridspec(len(RADII), len(VAR_LABELS), left=left, right=right,
                      top=top, bottom=bottom, wspace=0, hspace=0)

# dense round dots along each empirical curve
bead = dict(lw=3.5, ls=(0, (0.01, 0.8)), dash_capstyle='round')

for i, r in enumerate(RADII):
    xs = [d for d in DIST if d < XMAX[i]] + [XMAX[i]]
    for j, lab in enumerate(VAR_LABELS):
        ax = fig.add_subplot(gs[i, j])
        ax.set_xlim(-1.7, 36.8)
        ax.set_ylim(-0.255, 1.065)
        ax.set_xticks([0, 10, 20, 30])
        ax.set_yticks([0, 0.5, 1])
        ax.xaxis.set_minor_locator(FixedLocator([5, 15, 25, 35]))
        ax.yaxis.set_minor_locator(FixedLocator([-0.25, 0.25, 0.75]))
        ax.grid(which='major', color=GRID, lw=1.1)
        ax.grid(which='minor', color=GRID, lw=0.55)
        ax.set_axisbelow(True)
        for s in ax.spines.values():
            s.set_color(DARK)
            s.set_linewidth(1.0)
        ax.tick_params(which='minor', length=0)
        ax.tick_params(which='major', length=3, color=DARK, width=0.8,
                       labelsize=13, labelcolor='#4D4D4D', pad=2)
        if j == 0:
            ax.set_yticklabels(['0', '0.5', '1'])
        else:
            ax.tick_params(axis='y', left=False, labelleft=False)
        if i == len(RADII) - 1:
            ax.set_xticklabels(['0', '10', '20', '30'])
        else:
            ax.tick_params(axis='x', bottom=False, labelbottom=False)

        ax.axhline(0, color=HRED, lw=0.9, zorder=1.5)
        ax.axvline(2 * r, color=VBLUE, lw=0.9, ls=(0, (4, 3)), zorder=1.6)

        ax.plot(xs, EMP_RAW[j][i], color=RED, zorder=2, **bead)
        ax.plot(xs, EMP_RES[j][i], color=BLUE, zorder=2.1, **bead)
        ax.plot(xs, MOD_RAW[j][i], color='black', lw=1.4, ls=(0, (4, 3)), zorder=3)
        ax.plot(xs, MOD_RES[j][i], color='black', lw=1.4, zorder=3.1)

        if i == 0 and j == 0:
            ax.text(2 * r - 0.5, 0.88, 'Overlap', ha='right', va='center', fontsize=12)
            ax.text(2 * r + 0.5, 0.88, 'No Overlap', ha='left', va='center', fontsize=12)

        if i == 0:
            p = ax.get_position()
            sax = fig.add_axes([p.x0, top, p.width, 40 / H])
            sax.set_facecolor(STRIP)
            sax.set_xticks([])
            sax.set_yticks([])
            for s in sax.spines.values():
                s.set_color(DARK)
                s.set_linewidth(1.0)
            sax.text(0.5, 0.5, lab, transform=sax.transAxes, ha='center', va='center',
                     fontsize=15, color='#1A1A1A')
        if j == len(VAR_LABELS) - 1:
            p = ax.get_position()
            sax = fig.add_axes([right, p.y0, 1 - right, p.height])
            sax.set_facecolor(STRIP)
            sax.set_xticks([])
            sax.set_yticks([])
            for s in sax.spines.values():
                s.set_color(DARK)
                s.set_linewidth(1.0)
            sax.text(0.5, 0.5, f'Radius\n{r:g} m', transform=sax.transAxes, ha='center',
                     va='center', rotation=-90, fontsize=14.5, color='#1A1A1A',
                     linespacing=1.45)

fig.text(80 / W, 1 - 21 / H, 'Correlation of residuals from the selected models for different '
         'variables and subplots of different radius', fontsize=21, ha='left', va='center')
fig.text(22 / W, (top + bottom) / 2, 'Correlation', rotation=90, fontsize=14.5,
         ha='center', va='center')
fig.text((left + right) / 2, 1 - 1134 / H, 'Distance (m)', fontsize=14.5,
         ha='center', va='center')

# legend row
ly = 1 - 1203 / H
fig.text(343 / W, ly, 'Empirical correlation', fontsize=17.5, ha='left', va='center')
fig.add_artist(Line2D([573 / W], [ly], marker='o', ms=3.5, color=RED, ls='none',
                      transform=fig.transFigure))
fig.text(584 / W, ly, 'Raw variable', fontsize=14, ha='left', va='center')
fig.add_artist(Line2D([714 / W], [ly], marker='o', ms=3.5, color=BLUE, ls='none',
                      transform=fig.transFigure))
fig.text(723 / W, ly, 'Residual', fontsize=14, ha='left', va='center')
fig.text(901 / W, ly, 'Modeled correlation', fontsize=17.5, ha='left', va='center')
fig.add_artist(Line2D([1125 / W, 1156 / W], [ly, ly], color='black', lw=1.4,
                      ls=(0, (4, 3)), transform=fig.transFigure))
fig.text(1164 / W, ly, 'Raw variable', fontsize=14, ha='left', va='center')
fig.add_artist(Line2D([1284 / W, 1319 / W], [ly, ly], color='black', lw=1.4,
                      transform=fig.transFigure))
fig.text(1324 / W, ly, 'Residual', fontsize=14, ha='left', va='center')

fig.savefig('out.png', dpi=100)
